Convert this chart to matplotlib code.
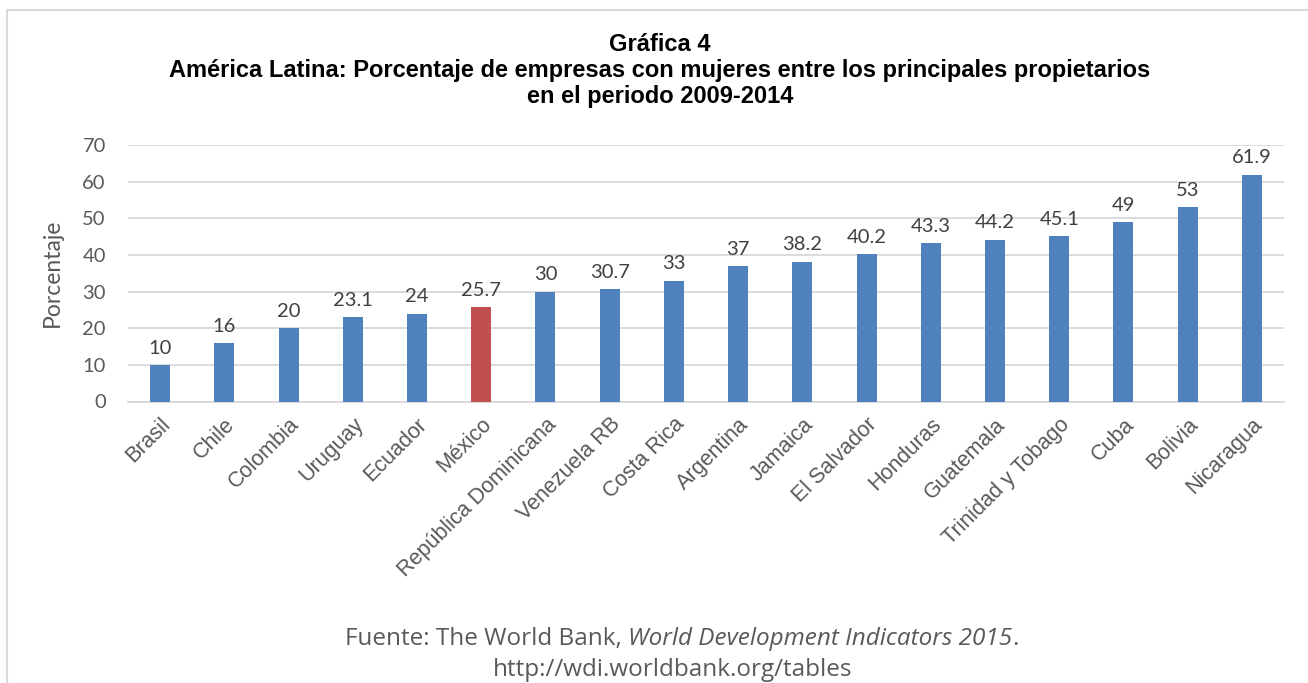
import matplotlib.pyplot as plt
from matplotlib.patches import Rectangle

# Datos: porcentaje de empresas con mujeres entre los principales propietarios
paises = ['Brasil', 'Chile', 'Colombia', 'Uruguay', 'Ecuador', 'México',
          'República Dominicana', 'Venezuela RB', 'Costa Rica', 'Argentina',
          'Jamaica', 'El Salvador', 'Honduras', 'Guatemala', 'Trinidad y Tobago',
          'Cuba', 'Bolivia', 'Nicaragua']
porcentajes = [10, 16, 20, 23.1, 24, 25.7, 30, 30.7, 33, 37, 38.2, 40.2,
               43.3, 44.2, 45.1, 49, 53, 61.9]
etiquetas = ['10', '16', '20', '23.1', '24', '25.7', '30', '30.7', '33', '37',
             '38.2', '40.2', '43.3', '44.2', '45.1', '49', '53', '61.9']
resaltado = 'México'

azul = '#4F81BD'
rojo = '#C0504D'
gris = '#595959'

fig = plt.figure(figsize=(13.08, 6.83), dpi=100)
W, H = 1308, 683

# marco del grafico
fig.patches.append(Rectangle((7 / W, -0.1), 1.1, (H - 10) / H + 0.1,
                             transform=fig.transFigure, fill=False,
                             edgecolor='#D9D9D9', linewidth=1.5))

ax = fig.add_axes([128 / W, (H - 401.5) / H, (1284 - 128) / W, (401.5 - 145) / H])

colores = [rojo if p == resaltado else azul for p in paises]
x = range(len(paises))
barras = ax.bar(x, porcentajes, width=0.31, color=colores, zorder=3)

for b, t in zip(barras, etiquetas):
    ax.annotate(t, (b.get_x() + b.get_width() / 2, b.get_height()),
                xytext=(0, 6), textcoords='offset points', ha='center', va='bottom',
                fontsize=14.5, color='#404040', family='Lato')

ax.set_xlim(-0.5, len(paises) - 0.5)
ax.set_ylim(0, 70)
ax.set_yticks(range(0, 71, 10))
ax.yaxis.grid(True, color='#D9D9D9', linewidth=1.3, zorder=0)
for s in ['top', 'right', 'left']:
    ax.spines[s].set_visible(False)
ax.spines['bottom'].set_color('#D9D9D9')
ax.spines['bottom'].set_linewidth(1.3)
ax.tick_params(axis='both', length=0)
ax.tick_params(axis='y', labelsize=14.5, labelcolor=gris, pad=16)
for lab in ax.get_yticklabels():
    lab.set_family('Lato')

ax.set_xticks(list(x))
ax.set_xticklabels(paises, rotation=45, ha='right', rotation_mode='anchor',
                   fontsize=15.5, color=gris, family='Liberation Sans')
ax.tick_params(axis='x', pad=9)

ax.set_ylabel('Porcentaje', fontsize=16.5, color=gris, family='Lato', labelpad=14)

# titulo
titulo = ('Gráfica 4\nAmérica Latina: Porcentaje de empresas con mujeres entre los principales propietarios\n'
          'en el periodo 2009-2014')
fig.text(660 / W, 1 - 33 / H, titulo, ha='center', va='top', fontsize=17,
         fontweight='bold', family='Liberation Sans', linespacing=1.17)

# fuente, con el nombre de la publicacion en cursiva
fig.canvas.draw()
rend = fig.canvas.get_renderer()
partes = [('Fuente: The World Bank, ', 'normal'),
          ('World Development Indicators 2015', 'italic'),
          ('.', 'normal')]
textos = []
for s, estilo in partes:
    t = fig.text(0, 1 - 645 / H, s, fontsize=17.5, color=gris, family='Open Sans',
                 style=estilo, ha='left', va='baseline')
    textos.append(t)
anchos = [t.get_window_extent(rend).width for t in textos]
x0 = 682 - sum(anchos) / 2
for t, w in zip(textos, anchos):
    t.set_x(x0 / W)
    x0 += w
fig.text(673 / W, 1 - 676 / H, 'http://wdi.worldbank.org/tables', ha='center',
         va='baseline', fontsize=17.5, color=gris, family='Open Sans')

fig.savefig('out.png', dpi=100)
